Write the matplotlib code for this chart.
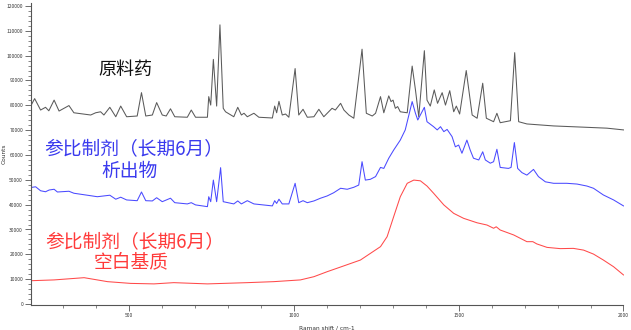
import matplotlib
matplotlib.use("Agg")
import matplotlib.pyplot as plt
from matplotlib.ticker import MultipleLocator, FixedLocator

plt.rcParams['font.family'] = ['Noto Sans CJK SC', 'DejaVu Sans']

# Raw API spectrum (black)
api_x = [202, 214, 232, 247, 257, 273, 288, 318, 333, 384, 399, 414, 424, 442, 460, 475, 493,
         525, 538, 551, 571, 584, 601, 613, 626, 639, 677, 689, 702, 738, 742, 748, 756, 766,
         776, 786, 793, 818, 830, 841, 849, 859, 879, 894, 935, 942, 948, 955, 965, 975, 985,
         1004, 1015, 1028, 1041, 1061, 1076, 1091, 1116, 1126, 1142, 1152, 1167, 1182, 1207,
         1220, 1238, 1248, 1263, 1273, 1288, 1295, 1301, 1308, 1315, 1323, 1344, 1359, 1369,
         1379, 1396, 1404, 1414, 1426, 1436, 1450, 1460, 1473, 1485, 1493, 1503, 1523, 1541,
         1556, 1573, 1584, 1606, 1616, 1626, 1657, 1670, 1682, 1707, 1788, 1879, 1950, 2000]
api_y = [79700, 82700, 78100, 79200, 77800, 82100, 77700, 79900, 77000, 76100, 77000, 77400,
         76100, 79200, 75400, 79700, 75400, 75700, 85100, 75700, 76100, 81100, 76100, 75700,
         78600, 75400, 75200, 78100, 75200, 75200, 83500, 80100, 98500, 79700, 112400, 78800,
         77400, 75400, 79200, 76100, 76800, 75400, 76800, 75200, 74900, 79700, 77000, 81600,
         76100, 76500, 75200, 94800, 76100, 78400, 75200, 75400, 78400, 75400, 78800, 78100,
         80800, 78100, 76100, 74800, 102600, 76800, 75700, 76800, 83500, 77000, 83800, 81500,
         82100, 78800, 79500, 77400, 77000, 95800, 86200, 75400, 102000, 82100, 79700, 86200,
         80800, 85100, 80100, 85900, 77400, 79700, 76500, 94000, 76100, 74800, 88900, 74800,
         73400, 76800, 73000, 73800, 101200, 73400, 72500, 71700, 71200, 70800, 70100]

# Reference product, 6 months, extract (blue)
ext_x = [207, 217, 232, 247, 258, 273, 283, 318, 333, 384, 404, 442, 460, 475, 493, 525, 538,
         551, 571, 584, 601, 626, 639, 677, 689, 702, 738, 742, 748, 756, 766, 778, 786, 818,
         830, 841, 859, 879, 935, 942, 948, 955, 965, 985, 1004, 1015, 1028, 1041, 1061, 1081,
         1101, 1121, 1142, 1162, 1182, 1197, 1207, 1217, 1232, 1248, 1263, 1273, 1288, 1303,
         1323, 1338, 1359, 1369, 1376, 1396, 1404, 1424, 1435, 1445, 1455, 1465, 1480, 1490,
         1500, 1510, 1525, 1535, 1545, 1561, 1573, 1581, 1596, 1606, 1616, 1626, 1651, 1659,
         1669, 1679, 1692, 1707, 1727, 1742, 1763, 1788, 1828, 1859, 1889, 1909, 1939, 1970,
         2000]
ext_y = [47000, 47200, 45600, 45200, 45900, 46200, 45100, 45400, 44600, 43600, 43200, 43800,
         42200, 43000, 41900, 41600, 45100, 41600, 41500, 42800, 41200, 42600, 40800, 40300,
         40800, 39900, 39200, 43200, 41200, 49900, 41200, 54900, 41200, 40300, 41500, 40300,
         41600, 40300, 39500, 41600, 40500, 42200, 40300, 40300, 48600, 40800, 41600, 40800,
         41500, 42600, 43500, 44800, 46600, 46200, 47000, 47900, 57300, 49900, 50200, 51300,
         55000, 54600, 58700, 62000, 66000, 70100, 81500, 76800, 74100, 79200, 73400, 71400,
         70100, 71400, 69400, 70300, 67400, 63300, 64000, 60700, 66000, 62000, 58700, 58000,
         61300, 58000, 56700, 57300, 62300, 55000, 54600, 55000, 65000, 54600, 52900, 51900,
         54200, 51300, 49200, 48600, 48600, 48300, 47500, 46600, 43900, 41900, 39500]

# Reference product, 6 months, blank matrix (red)
blk_x = [207, 273, 364, 435, 505, 576, 636, 738, 859, 939, 1020, 1061, 1101, 1142, 1202, 1263,
         1283, 1303, 1323, 1344, 1364, 1384, 1404, 1424, 1455, 1485, 1515, 1556, 1586, 1606,
         1614, 1626, 1667, 1707, 1725, 1737, 1768, 1808, 1848, 1879, 1909, 1939, 1970, 2000]
blk_y = [9400, 9700, 10600, 9000, 8300, 8100, 8600, 8100, 8600, 9000, 9700, 11000, 13000,
         14900, 17700, 23100, 27100, 35200, 43200, 48600, 49900, 49600, 47500, 44600, 39900,
         36500, 34500, 32700, 31800, 30500, 31100, 29800, 27800, 25100, 25100, 24200, 22800,
         22300, 22400, 21700, 20100, 17700, 15000, 11700]

y_ticks = [0, 10000, 20000, 30000, 40000, 50000, 60000, 70000, 80000, 90000, 100000, 110000, 120000]
x_ticks = [500, 1000, 1500, 2000]

fig = plt.figure(figsize=(6.31, 3.30), dpi=100)
ax = fig.add_axes([30.7 / 631, 1 - 305 / 330, (623.5 - 30.7) / 631, (305 - 3) / 330])

ax.plot(api_x, api_y, color='#5a5a5a', lw=0.75)
ax.plot(ext_x, ext_y, color='#4a4aff', lw=0.75)
ax.plot(blk_x, blk_y, color='#ff4a4a', lw=0.75)

ax.set_xlim(202, 2000)
ax.set_ylim(-400, 121200)

ax.yaxis.set_major_locator(FixedLocator(y_ticks))
ax.yaxis.set_minor_locator(MultipleLocator(2000))
ax.xaxis.set_major_locator(FixedLocator(x_ticks))
ax.xaxis.set_minor_locator(MultipleLocator(100))
ax.set_yticklabels([str(v) for v in y_ticks])
ax.set_xticklabels([str(v) for v in x_ticks])

for s in ['top', 'right']:
    ax.spines[s].set_visible(False)
for s in ['left', 'bottom']:
    ax.spines[s].set_color('#555555')
    ax.spines[s].set_linewidth(0.8)

ax.tick_params(axis='both', which='major', direction='out', length=4, width=0.6,
               color='#555555', labelsize=3.5, labelcolor='#333333', pad=1.5)
ax.tick_params(axis='both', which='minor', direction='out', length=2, width=0.5, color='#555555')

ax.set_xlabel('Raman shift / cm-1', fontsize=4.2, color='#333333', labelpad=6,
              family='DejaVu Sans')
ax.set_ylabel('Counts', fontsize=4.2, color='#333333', family='DejaVu Sans')
ax.yaxis.set_label_coords(-0.04, 0.5)

fig.text(125 / 631, 1 - 70 / 330, '原料药', fontsize=13, color='#111111',
         ha='center', va='center')
fig.text(134 / 631, 1 - 149 / 330, '参比制剂（长期6月）', fontsize=13.5, color='#3a3aee',
         ha='center', va='center')
fig.text(130 / 631, 1 - 171 / 330, '析出物', fontsize=13.5, color='#3a3aee',
         ha='center', va='center')
fig.text(135 / 631, 1 - 242 / 330, '参比制剂（长期6月）', fontsize=13.5, color='#ff3a3a',
         ha='center', va='center')
fig.text(131 / 631, 1 - 262 / 330, '空白基质', fontsize=13.5, color='#ff3a3a',
         ha='center', va='center')

fig.savefig('out.png', dpi=100)
